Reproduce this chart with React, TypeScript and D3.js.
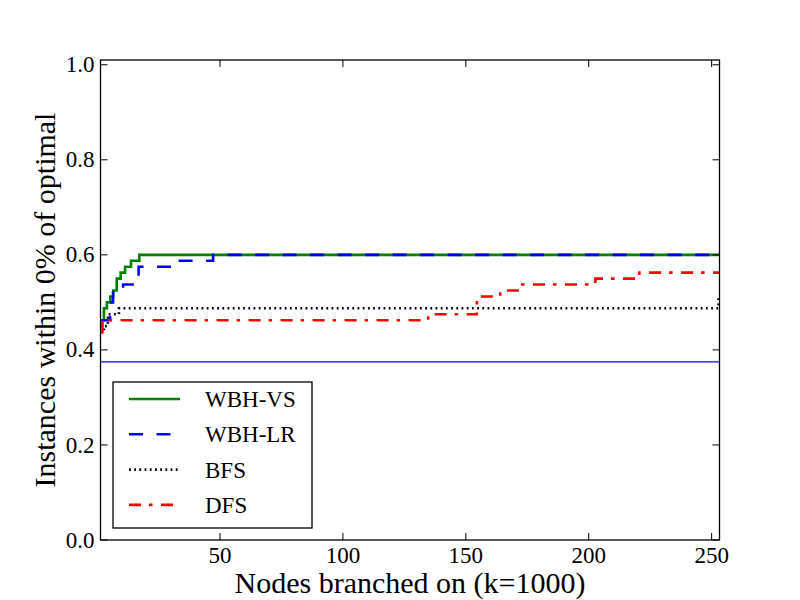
import React from "react";
import * as d3 from "d3";

// nodes branched on (k=1000) where each curve steps up, and the level it reaches
const vsX = [1.4, 2.8, 4.0, 5.4, 6.6, 8.0, 9.6, 11.4, 13.8, 17.2, 253.2];
const vsY = [0.4625, 0.4875, 0.5, 0.5125, 0.525, 0.55, 0.5625, 0.575, 0.5875, 0.6, 0.6];

const lrX = [1.4, 5.3, 6.5, 10.6, 16.9, 32.7, 47.2, 253.2];
const lrY = [0.4625, 0.5, 0.525, 0.5375, 0.575, 0.5875, 0.6, 0.6];

const bfsX = [1.4, 2.8, 4.4, 8.9, 252.8, 253.2];
const bfsY = [0.4375, 0.45, 0.475, 0.4875, 0.5125, 0.5125];

const dfsX = [1.4, 2.2, 134.7, 154.5, 164, 172.2, 202.7, 220.6, 253.2];
const dfsY = [0.4375, 0.4625, 0.475, 0.5125, 0.525, 0.5375, 0.55, 0.5625, 0.5625];

const baseline = 0.375;

const xTicks = [50, 100, 150, 200, 250];
const yTicks = [0, 0.2, 0.4, 0.6, 0.8, 1.0];

const seriesNames = ["WBH-VS", "WBH-LR", "BFS", "DFS"];

const margin = { top: 60, right: 80.5, bottom: 60, left: 100.5 };
const W = 800;
const H = 600;
const font = "Liberation Serif, DejaVu Serif, Times New Roman, serif";

const styles = [
  { color: "#008000", dash: "none" },
  { color: "#0000ff", dash: "14,13.5" },
  { color: "#000000", dash: "1.8,3.4" },
  { color: "#ff0000", dash: "12,8,3.5,8.5" },
];

export default function App() {
  const x = d3.scaleLinear().domain([1.4, 253.2]).range([margin.left, W - margin.right]);
  const y = d3.scaleLinear().domain([0, 1.01]).range([H - margin.bottom, margin.top]);

  const line = d3
    .line<[number, number]>()
    .x((d) => x(d[0]))
    .y((d) => y(d[1]))
    .curve(d3.curveStepAfter);

  const series = [
    d3.zip(vsX, vsY) as [number, number][],
    d3.zip(lrX, lrY) as [number, number][],
    d3.zip(bfsX, bfsY) as [number, number][],
    d3.zip(dfsX, dfsY) as [number, number][],
  ];

  const [x0, x1] = x.range();
  const [y0, y1] = y.range();
  const tick = 7;

  return (
    <div style={{ position: "fixed", left: 0, top: 0 }}>
      <svg width={W} height={H} style={{ display: "block", background: "#fff", fontFamily: font }}>
        <defs>
          <clipPath id="plot">
            <rect x={x0} y={y1} width={x1 - x0} height={y0 - y1} />
          </clipPath>
        </defs>

        <g clipPath="url(#plot)">
          {series.map((s, i) => (
            <path
              key={seriesNames[i]}
              d={line(s) ?? ""}
              fill="none"
              stroke={styles[i].color}
              strokeWidth={2.6}
              strokeDasharray={styles[i].dash}
            />
          ))}
          <line x1={x0} x2={x1} y1={y(baseline)} y2={y(baseline)} stroke="#0000ff" strokeWidth={1.3} />
        </g>

        {/* ticks, pointing inward on all four sides */}
        {xTicks.map((t) => (
          <g key={"x" + t}>
            <line x1={x(t)} x2={x(t)} y1={y0} y2={y0 - tick} stroke="#000" />
            <line x1={x(t)} x2={x(t)} y1={y1} y2={y1 + tick} stroke="#000" />
            <text x={x(t)} y={y0 + 23} textAnchor="middle" fontSize={23}>
              {t}
            </text>
          </g>
        ))}
        {yTicks.map((t) => (
          <g key={"y" + t}>
            <line x1={x0} x2={x0 + tick} y1={y(t)} y2={y(t)} stroke="#000" />
            <line x1={x1} x2={x1 - tick} y1={y(t)} y2={y(t)} stroke="#000" />
            <text x={x0 - 6} y={y(t)} dy="0.33em" textAnchor="end" fontSize={23}>
              {d3.format(".1f")(t)}
            </text>
          </g>
        ))}

        <rect x={x0} y={y1} width={x1 - x0} height={y0 - y1} fill="none" stroke="#000" strokeWidth={1.3} />

        <text x={(x0 + x1) / 2} y={593} textAnchor="middle" fontSize={30}>
          Nodes branched on (k=1000)
        </text>
        <text
          transform={`translate(55,${(y0 + y1) / 2}) rotate(-90)`}
          textAnchor="middle"
          fontSize={30}
        >
          Instances within 0% of optimal
        </text>

        {/* legend */}
        <g>
          <rect x={113} y={382} width={199} height={146} fill="#fff" stroke="#000" strokeWidth={1.3} />
          {seriesNames.map((name, i) => {
            const ry = 399 + i * 35.3;
            return (
              <g key={name}>
                <line
                  x1={129}
                  x2={180}
                  y1={ry}
                  y2={ry}
                  stroke={styles[i].color}
                  strokeWidth={2.6}
                  strokeDasharray={styles[i].dash}
                />
                <text x={205} y={ry} dy="0.35em" fontSize={23}>
                  {name}
                </text>
              </g>
            );
          })}
        </g>
      </svg>
    </div>
  );
}
